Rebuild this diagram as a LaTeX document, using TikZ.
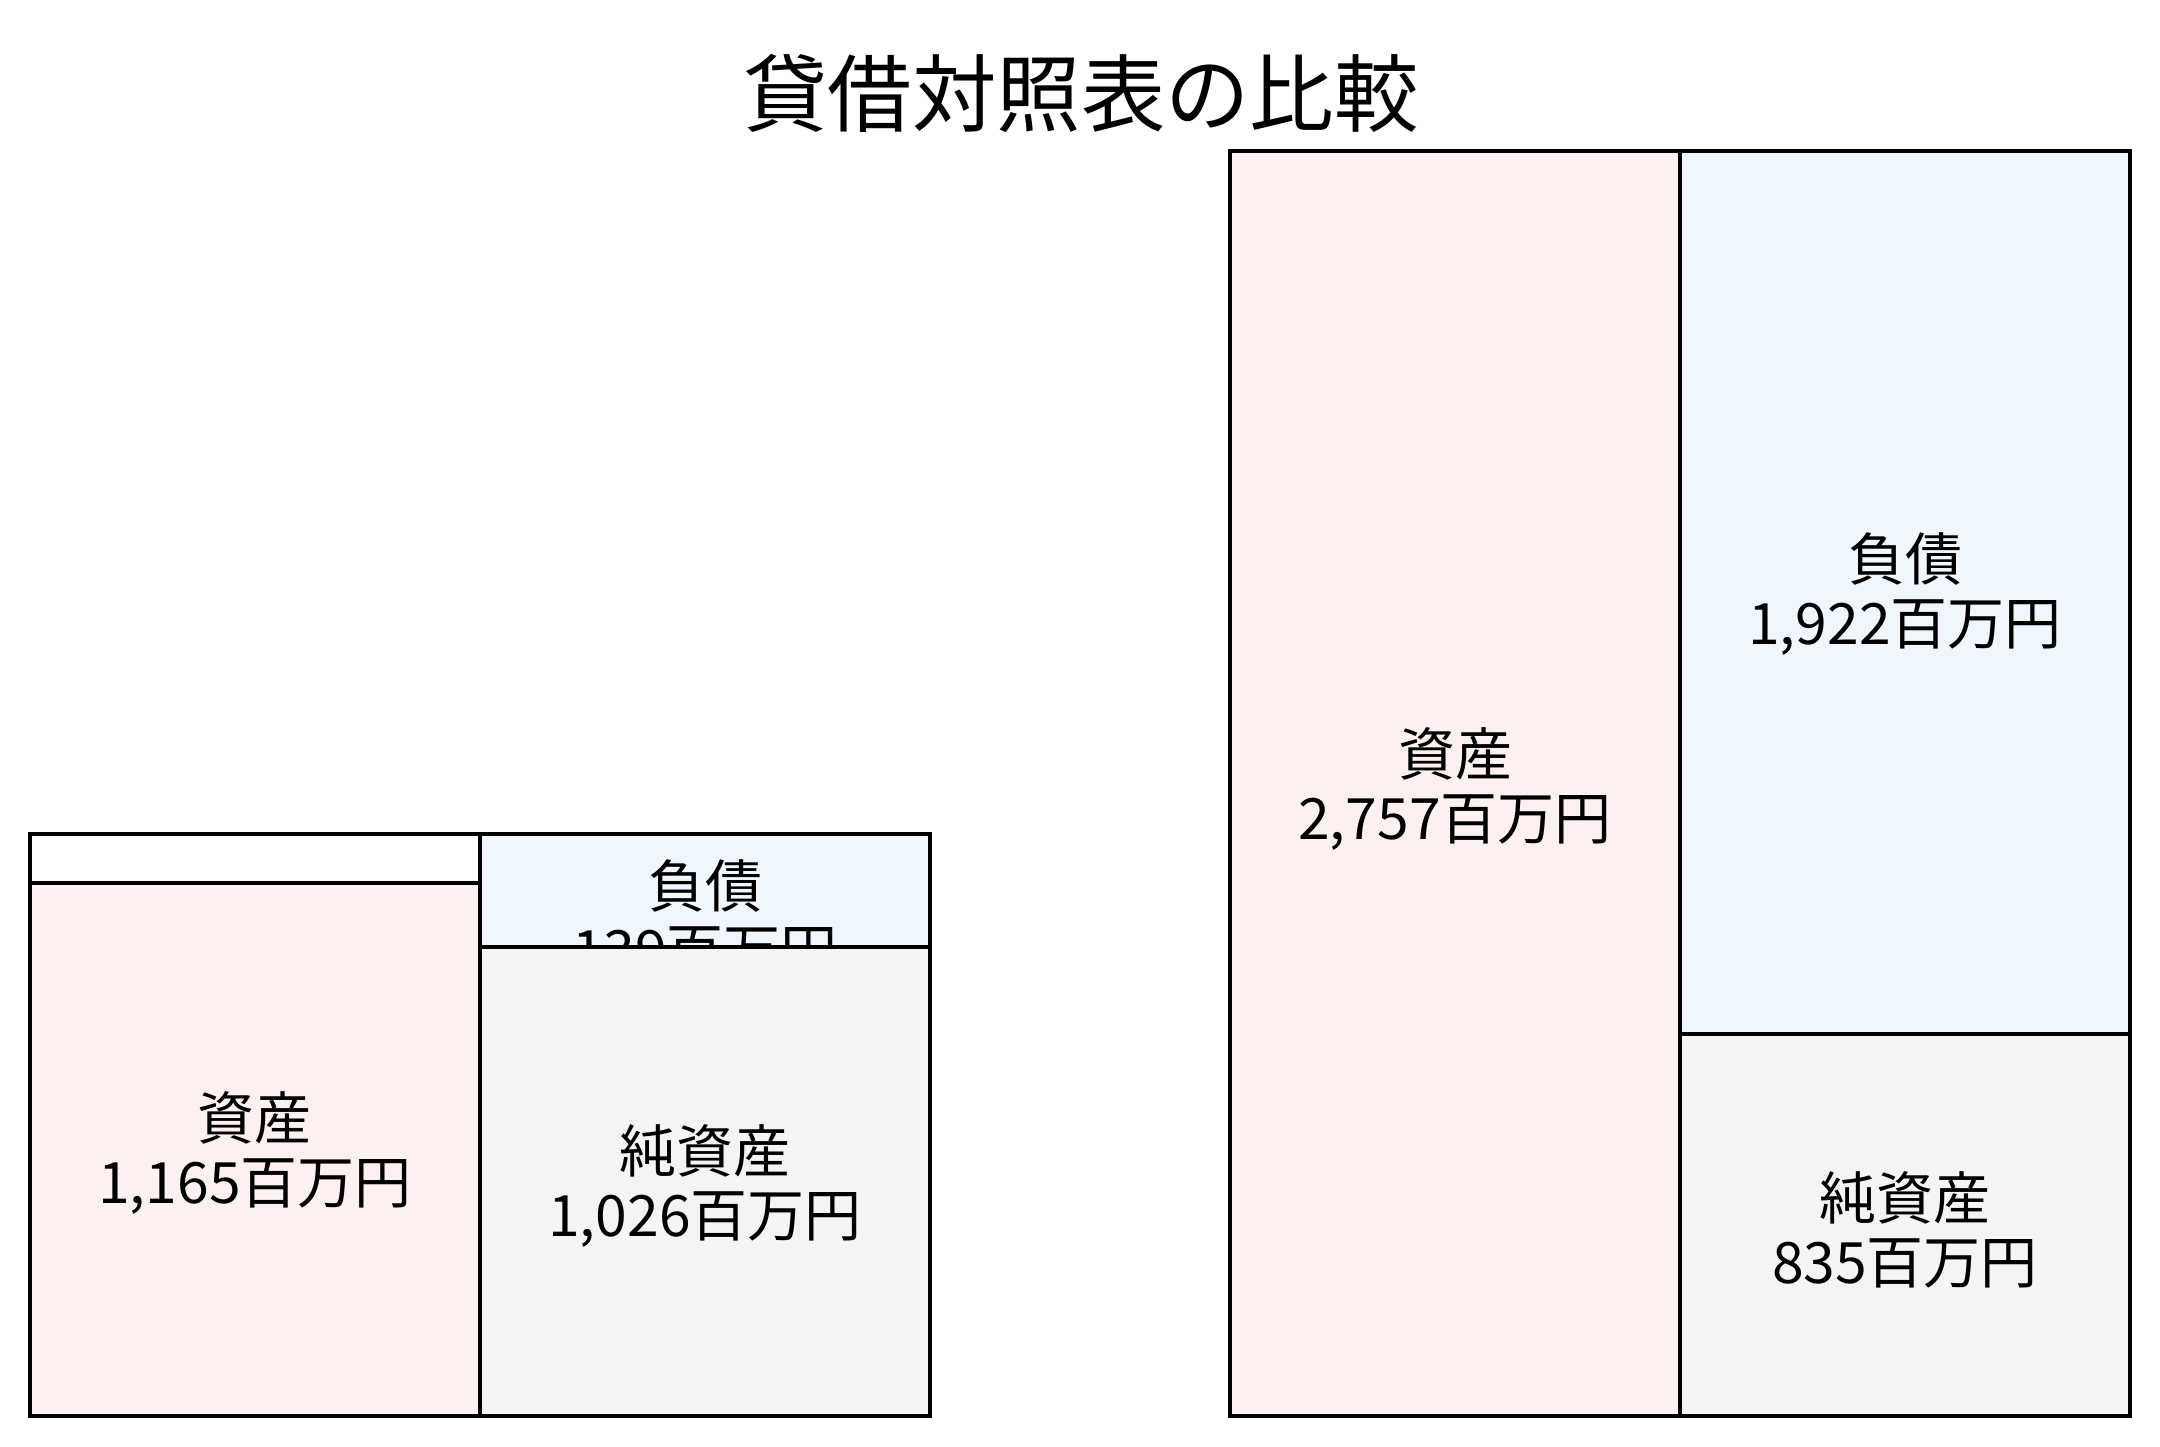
\documentclass[tikz,border=0pt]{standalone}
\usepackage{fontspec}
\newfontfamily\jp{Noto Sans CJK JP}
\definecolor{assetfill}{RGB}{253,240,240}
\definecolor{liabfill}{RGB}{239,246,253}
\definecolor{netfill}{RGB}{244,244,244}
\begin{document}
\begin{tikzpicture}[x=0.5pt,y=-0.5pt,
  box/.style={draw=black,line width=1.7pt},
  frame/.style={draw=black,line width=2pt},
  lbl/.style={font=\jp\fontsize{28.5}{32}\selectfont,align=center,inner sep=0pt},
  ttl/.style={font=\jp\fontsize{42.2}{48}\selectfont,inner sep=0pt}]
\useasboundingbox (0,0) rectangle (2160,1447);
\node[ttl] (title) at (1081,93) {貸借対照表の比較};
% left panel
\fill[white] (30,834) rectangle (480,883);
\draw[box] (30,834) rectangle (480,883);
\draw[box,fill=assetfill] (30,883) rectangle (480,1416);
\node[lbl] (la) at (255,1153) {資産\\1,165百万円};
\draw[box,fill=liabfill] (480,834) rectangle (930,947);
\node[lbl] (ll) at (705,918) {負債\\139百万円};
\draw[box,fill=netfill] (480,947) rectangle (930,1416);
\node[lbl] (ln) at (705,1186) {純資産\\1,026百万円};
\draw[frame] (30,834) rectangle (930,1416);
% right panel
\draw[box,fill=assetfill] (1230,151) rectangle (1680,1416);
\node[lbl] (ra) at (1455,789) {資産\\2,757百万円};
\draw[box,fill=liabfill] (1680,151) rectangle (2130,1034);
\node[lbl] (rl) at (1905,594) {負債\\1,922百万円};
\draw[box,fill=netfill] (1680,1034) rectangle (2130,1416);
\node[lbl] (rn) at (1905,1230) {純資産\\835百万円};
\draw[frame] (1230,151) rectangle (2130,1416);
\end{tikzpicture}
\end{document}
